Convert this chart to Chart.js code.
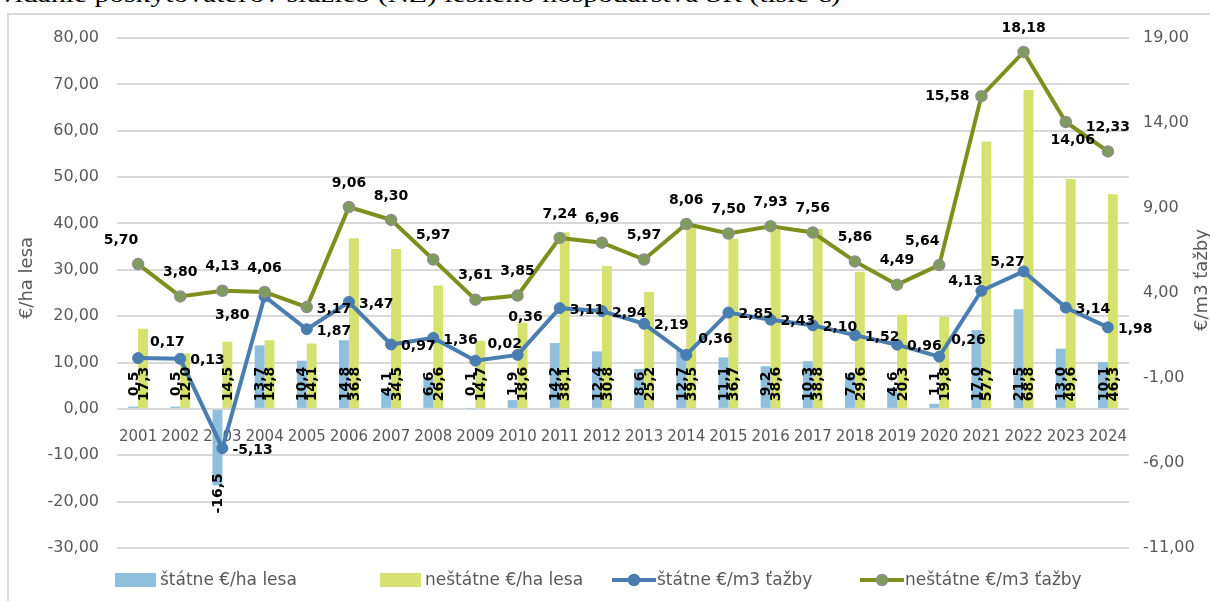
<!DOCTYPE html>
<html lang="sk">
<head>
<meta charset="utf-8">
<title>Lesné hospodárstvo SR</title>
<script src="https://cdn.jsdelivr.net/npm/chart.js@4.4.1/dist/chart.umd.min.js"></script>
<style>
  html, body { margin: 0; padding: 0; background: #fff; overflow: hidden; }
  #page { position: relative; width: 1210px; height: 601px; overflow: hidden; }
  #caption { position: absolute; left: 0; top: -18px; font: 24px 'Liberation Serif', serif; color: #000;
             white-space: nowrap; transform-origin: 0 0; line-height: 1; }
  #frame { position: absolute; left: 7px; top: 13px; width: 1400px; height: 800px; border: 2px solid #d9d9d9; }
  #chart { position: absolute; left: 0; top: 0; }
</style>
</head>
<body>
<div id="page">
  <div id="caption">vidanie poskytovateľov služieb (NZ) lesného hospodárstva SR (tisíc €)</div>
  <div id="frame"></div>
  <canvas id="chart" width="1210" height="601"></canvas>
</div>
<script>
// €/ha lesa (bars, left axis) and €/m3 ťažby (lines, right axis), 2001–2024
const YEARS = ['2001', '2002', '2003', '2004', '2005', '2006', '2007', '2008', '2009', '2010', '2011', '2012',
  '2013', '2014', '2015', '2016', '2017', '2018', '2019', '2020', '2021', '2022', '2023', '2024'];
const STATE_HA = [0.5, 0.5, -16.5, 13.7, 10.4, 14.8, 4.1, 6.6, 0.1, 1.9, 14.2, 12.4,
  8.6, 12.7, 11.1, 9.2, 10.3, 7.6, 4.6, 1.1, 17.0, 21.5, 13.0, 10.1];
const PRIVATE_HA = [17.3, 12.0, 14.5, 14.8, 14.1, 36.8, 34.5, 26.6, 14.7, 18.6, 38.1, 30.8,
  25.2, 39.5, 36.7, 38.6, 38.8, 29.6, 20.3, 19.8, 57.7, 68.8, 49.6, 46.3];
const STATE_M3 = [0.17, 0.13, -5.13, 3.80, 1.87, 3.47, 0.97, 1.36, 0.02, 0.36, 3.11, 2.94,
  2.19, 0.36, 2.85, 2.43, 2.10, 1.52, 0.96, 0.26, 4.13, 5.27, 3.14, 1.98];
const PRIVATE_M3 = [5.70, 3.80, 4.13, 4.06, 3.17, 9.06, 8.30, 5.97, 3.61, 3.85, 7.24, 6.96,
  5.97, 8.06, 7.50, 7.93, 7.56, 5.86, 4.49, 5.64, 15.58, 18.18, 14.06, 12.33];
const RIGHT_TICKS = [-11, -6, -1, 4, 9, 14, 19];

// where each line label sits relative to its point
const PRIVATE_M3_POS = ['tl', 't', 't', 't', 'r', 't', 't', 't', 't', 't', 't', 't',
  't', 't', 't', 't', 't', 't', 't', 'tl', 'l', 't', 'b', 't'];
const STATE_M3_POS = ['tr', 'r', 'r', 'lb', 'r', 'r', 'r', 'r', 'tr', 'tt', 'r', 'r',
  'r', 'tr', 'r', 'r', 'r', 'r', 'r', 'tr', 'ul', 'ul', 'r', 'r'];

const C_STATE_BAR = '#8fbfdc';
const C_PRIV_BAR = '#d6e26f';
const C_STATE_LINE = '#4a7db0';
const C_PRIV_LINE = '#7e8f1d';
const C_PRIV_MARK = '#7f9c5c';
const C_AXIS = '#595959';
const FONT = "'DejaVu Sans', sans-serif";

const fmt = (v, d) => v.toFixed(d).replace('.', ',');

function labelCenter(pt, code, w) {
  switch (code) {
    case 't': return [pt.x, pt.y - 24];
    case 'tt': return [pt.x + 8, pt.y - 38];
    case 'tl': return [pt.x - 17, pt.y - 24];
    case 'b': return [pt.x + 7, pt.y + 18];
    case 'r': return [pt.x + 10 + w / 2, pt.y + 2];
    case 'l': return [pt.x - 12 - w / 2, pt.y];
    case 'lb': return [pt.x - 15 - w / 2, pt.y + 19];
    case 'tr': return [pt.x + 12 + w / 2, pt.y - 16];
    case 'ul': return [pt.x - 16, pt.y - 9];
    default: return [pt.x, pt.y - 24];
  }
}

const valueLabels = {
  id: 'valueLabels',
  afterDatasetsDraw(chart) {
    const ctx = chart.ctx;
    ctx.save();
    ctx.fillStyle = '#000';
    ctx.textBaseline = 'middle';
    ctx.textAlign = 'center';

    // bar values, rotated, sitting on the zero line
    ctx.font = `bold 14px ${FONT}`;
    [2, 3].forEach(di => {
      const meta = chart.getDatasetMeta(di);
      const vals = chart.data.datasets[di].data;
      meta.data.forEach((bar, j) => {
        const txt = fmt(vals[j], 1);
        const cy = vals[j] >= 0 ? bar.base - 24 : bar.y + 8;
        ctx.save();
        ctx.translate(bar.x, cy);
        ctx.rotate(-Math.PI / 2);
        ctx.fillText(txt, 0, 1);
        ctx.restore();
      });
    });

    // line values
    ctx.font = `bold 14px ${FONT}`;
    [[0, PRIVATE_M3_POS], [1, STATE_M3_POS]].forEach(([di, pos]) => {
      const meta = chart.getDatasetMeta(di);
      const vals = chart.data.datasets[di].data;
      meta.data.forEach((pt, j) => {
        const txt = fmt(vals[j], 2);
        const w = ctx.measureText(txt).width;
        const [cx, cy] = labelCenter(pt, pos[j], w);
        ctx.fillText(txt, cx, cy);
      });
    });
    ctx.restore();
  },
  afterDraw(chart) {
    const ctx = chart.ctx;
    ctx.save();
    ctx.fillStyle = C_AXIS;
    ctx.textBaseline = 'middle';
    ctx.textAlign = 'center';
    ctx.font = `18px ${FONT}`;
    [['€/ha lesa', 27, 278], ['€/m3 ťažby', 1202, 280]].forEach(([t, x, y]) => {
      ctx.save();
      ctx.translate(x, y);
      ctx.rotate(-Math.PI / 2);
      ctx.fillText(t, 0, 0);
      ctx.restore();
    });

    // legend
    const ly = 580;
    ctx.font = `17px ${FONT}`;
    ctx.textAlign = 'left';
    const items = [
      { x: 115, kind: 'bar', color: C_STATE_BAR, text: 'štátne €/ha lesa' },
      { x: 380, kind: 'bar', color: C_PRIV_BAR, text: 'neštátne €/ha lesa' },
      { x: 612, kind: 'line', color: C_STATE_LINE, mark: C_STATE_LINE, edge: C_STATE_LINE, text: 'štátne €/m3 ťažby' },
      { x: 860, kind: 'line', color: C_PRIV_LINE, mark: C_PRIV_MARK, edge: '#8e8e8e', text: 'neštátne €/m3 ťažby' },
    ];
    items.forEach(it => {
      if (it.kind === 'bar') {
        ctx.fillStyle = it.color;
        ctx.fillRect(it.x, ly - 7, 41, 14);
      } else {
        ctx.strokeStyle = it.color;
        ctx.lineWidth = 4;
        ctx.beginPath();
        ctx.moveTo(it.x, ly);
        ctx.lineTo(it.x + 44, ly);
        ctx.stroke();
        ctx.beginPath();
        ctx.arc(it.x + 22, ly, 5.5, 0, Math.PI * 2);
        ctx.fillStyle = it.mark;
        ctx.fill();
        ctx.lineWidth = 1.5;
        ctx.strokeStyle = it.edge;
        ctx.stroke();
      }
      ctx.fillStyle = C_AXIS;
      ctx.fillText(it.text, it.x + 45, ly + 1);
    });
    ctx.restore();
  }
};

Chart.defaults.font.family = FONT;
Chart.defaults.color = C_AXIS;

new Chart(document.getElementById('chart'), {
  type: 'bar',
  data: {
    labels: YEARS,
    datasets: [
      {
        type: 'line', label: 'neštátne €/m3 ťažby', data: PRIVATE_M3, yAxisID: 'y1', order: 0,
        borderColor: C_PRIV_LINE, borderWidth: 4, tension: 0,
        pointRadius: 5.5, pointBackgroundColor: C_PRIV_MARK, pointBorderColor: '#8e8e8e', pointBorderWidth: 1.5
      },
      {
        type: 'line', label: 'štátne €/m3 ťažby', data: STATE_M3, yAxisID: 'y1', order: 1,
        borderColor: C_STATE_LINE, borderWidth: 4, tension: 0,
        pointRadius: 5.5, pointBackgroundColor: C_STATE_LINE, pointBorderColor: C_STATE_LINE, pointBorderWidth: 1
      },
      {
        label: 'štátne €/ha lesa', data: STATE_HA, yAxisID: 'y', order: 2,
        backgroundColor: C_STATE_BAR, categoryPercentage: 0.47, barPercentage: 1
      },
      {
        label: 'neštátne €/ha lesa', data: PRIVATE_HA, yAxisID: 'y', order: 3,
        backgroundColor: C_PRIV_BAR, categoryPercentage: 0.47, barPercentage: 1
      }
    ]
  },
  options: {
    responsive: false,
    animation: false,
    layout: { padding: { top: 38, bottom: 53, left: 0, right: 0 } },
    plugins: { legend: { display: false }, tooltip: { enabled: false } },
    scales: {
      x: {
        position: { y: 0 },
        grid: { display: false, drawTicks: false },
        border: { display: false },
        ticks: { font: { size: 15 }, padding: 19, maxRotation: 0, autoSkip: false, color: C_AXIS }
      },
      y: {
        position: 'left', min: -30, max: 80,
        grid: { color: '#d9d9d9', lineWidth: 2, drawTicks: false },
        border: { display: false },
        ticks: { stepSize: 10, padding: 18, font: { size: 16 }, color: C_AXIS, callback: v => fmt(v, 2) },
        afterFit: s => { s.width = 117; }
      },
      y1: {
        position: 'right', min: -11, max: 19,
        grid: { display: false, drawTicks: false },
        border: { display: false },
        ticks: { padding: 14, font: { size: 16 }, color: C_AXIS, callback: v => fmt(v, 2) },
        afterBuildTicks: s => { s.ticks = RIGHT_TICKS.map(v => ({ value: v })); },
        afterFit: s => { s.width = 81; }
      }
    }
  },
  plugins: [valueLabels]
});

// stretch the caption line to the width of the page column
const cap = document.getElementById('caption');
cap.style.transform = `scaleX(${841 / cap.offsetWidth})`;
</script>
</body>
</html>
